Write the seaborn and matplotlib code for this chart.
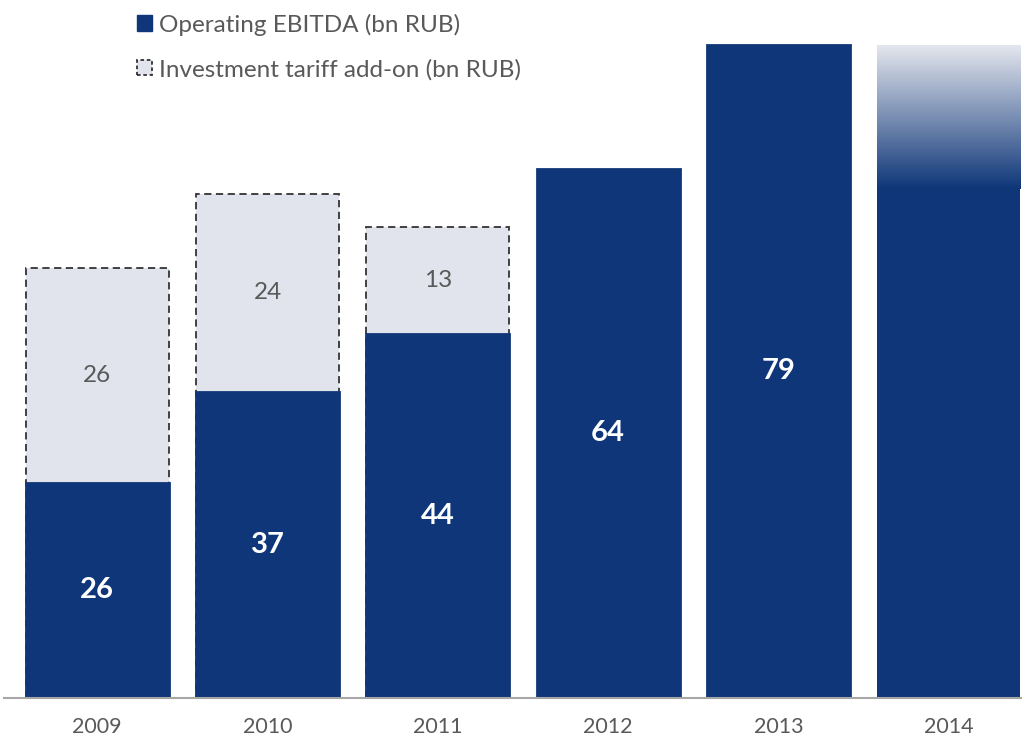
import numpy as np
import pandas as pd
import seaborn as sns
import matplotlib.pyplot as plt
from matplotlib.patches import Patch
from matplotlib.colors import LinearSegmentedColormap

years = ['2009', '2010', '2011', '2012', '2013', '2014']
ebitda = [26, 37, 44, 64, 79, 79]
addon = [26, 24, 13, np.nan, np.nan, np.nan]
ebitda_labels = ['26', '37', '44', '64', '79', '']
addon_labels = ['26', '24', '13']

navy = '#0E3678'
light = '#E1E4EC'

df = pd.DataFrame({'year': years, 'ebitda': ebitda, 'addon': addon})
df['total'] = df['ebitda'] + df['addon']

sns.set_theme(style='white')
plt.rcParams['font.family'] = ['Lato', 'DejaVu Sans']

fig = plt.figure(figsize=(10.22, 7.39), dpi=100)
ax = fig.add_axes([0.004, 41 / 739, 0.996, 698 / 739])

# dashed add-on bars first, EBITDA on top of them
sns.barplot(data=df, x='year', y='total', order=years, color=light,
            saturation=1, width=0.84, edgecolor='#333333', linewidth=1.3,
            linestyle=(0, (4, 2.5)), ax=ax)
sns.barplot(data=df, x='year', y='ebitda', order=years, color=navy,
            saturation=1, width=0.84, edgecolor=navy, linewidth=2, ax=ax)

ax.bar_label(ax.containers[-1], labels=ebitda_labels, label_type='center',
             color='white', fontsize=21, fontweight='bold')
for i, lab in enumerate(addon_labels):
    ax.text(i, ebitda[i] + addon[i] / 2, lab, ha='center', va='center',
            color='#595959', fontsize=17.5)

# 2014 bar fades out at the top
bar = ax.containers[-1][5]
bar.set_linewidth(0)
x0 = bar.get_x()
x1 = x0 + bar.get_width()
cmap = LinearSegmentedColormap.from_list('fade', ['#E6E8EF', navy])
grad = np.linspace(0, 1, 256).reshape(-1, 1)
im = ax.imshow(grad, cmap=cmap, aspect='auto', origin='upper',
               extent=[x0, x1, ebitda[5] - 17.5, ebitda[5]], zorder=5)
im.set_clip_path(bar)

ax.set_xlim(-93.5 / 171, (1022 - 93.5) / 171)
ax.set_ylim(0, 698 / 8.27)
ax.set_xlabel('')
ax.set_ylabel('')
ax.set_yticks([])
ax.tick_params(axis='x', length=0, pad=14, labelsize=15.5, labelcolor='#595959')
for s in ['top', 'right', 'left']:
    ax.spines[s].set_visible(False)
ax.spines['bottom'].set_color('#A6A6A6')
ax.spines['bottom'].set_linewidth(1.5)

handles = [Patch(facecolor=navy, edgecolor=navy),
           Patch(facecolor=light, edgecolor='#333333', linestyle=(0, (2, 1.5)), linewidth=1.3)]
fig.legend(handles, ['Operating EBITDA (bn RUB)', 'Investment tariff add-on (bn RUB)'],
           loc='upper left', bbox_to_anchor=(118 / 1022, 1.008), frameon=False,
           fontsize=17.5, labelcolor='#595959', handlelength=0.6, handleheight=0.6,
           handletextpad=0.3, labelspacing=0.95, borderaxespad=0.4)

fig.savefig('out.png', dpi=100)
